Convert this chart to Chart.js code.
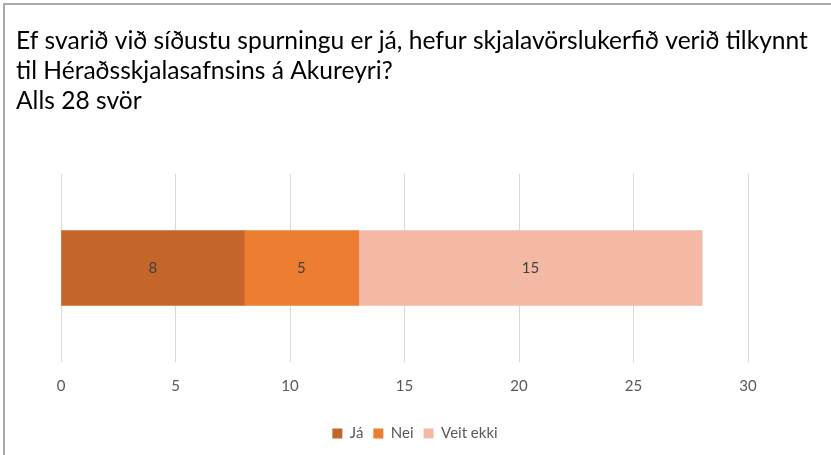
<!DOCTYPE html>
<html>
<head>
<meta charset="utf-8">
<script src="https://cdn.jsdelivr.net/npm/chart.js@4/dist/chart.umd.min.js"></script>
<style>
  html, body { margin: 0; padding: 0; background: #fff; overflow: hidden; }
  canvas { display: block; }
</style>
</head>
<body>
<canvas id="c" width="831" height="455"></canvas>
<script>
const titleLines = [
  "Ef svarið við síðustu spurningu er já, hefur skjalavörslukerfið verið tilkynnt",
  "til Héraðsskjalasafnsins á Akureyri?",
  "Alls 28 svör"
];
const categories = [""];
const seriesNames = ["Já", "Nei", "Veit ekki"];
const jaValues = [8];
const neiValues = [5];
const veitEkkiValues = [15];
const xTicks = [0, 5, 10, 15, 20, 25, 30];

const colors = ["#C4662A", "#ED7D31", "#F4B9A4"];
const FONT = "Lato, 'Open Sans', sans-serif";

const frame = {
  id: "frame",
  beforeDraw(chart) {
    const ctx = chart.ctx;
    ctx.save();
    ctx.fillStyle = "#fff";
    ctx.fillRect(0, 0, chart.width, chart.height);
    ctx.fillStyle = "#A9A9A9";
    ctx.fillRect(3, 3, chart.width - 3, 2);
    ctx.fillRect(3, 3, 2, chart.height - 3);
    ctx.restore();
  }
};

const valueLabels = {
  id: "valueLabels",
  afterDatasetsDraw(chart) {
    const ctx = chart.ctx;
    ctx.save();
    ctx.font = "15px " + FONT;
    ctx.fillStyle = "#404040";
    ctx.textAlign = "center";
    ctx.textBaseline = "middle";
    chart.data.datasets.forEach((ds, i) => {
      chart.getDatasetMeta(i).data.forEach((el, j) => {
        const p = el.getProps(["x", "y", "base"], true);
        ctx.fillText(String(ds.data[j]), (p.x + p.base) / 2, p.y);
      });
    });
    ctx.restore();
  }
};

const seriesData = [jaValues, neiValues, veitEkkiValues];

function build() {
  const mctx = document.createElement("canvas").getContext("2d");
  mctx.font = "100px Lato";
  const titleSize = Math.round(792 / mctx.measureText(titleLines[0]).width * 100 * 10) / 10;

  new Chart(document.getElementById("c"), {
    type: "bar",
    data: {
      labels: categories,
      datasets: seriesNames.map((n, i) => ({
        label: n,
        data: seriesData[i],
        backgroundColor: colors[i],
        borderWidth: 0,
        barThickness: 75
      }))
    },
    options: {
      indexAxis: "y",
      responsive: false,
      animation: false,
      layout: { padding: { left: 16, right: 17, top: 0, bottom: 4 } },
      scales: {
        x: {
          stacked: true,
          min: 0, max: 30,
          afterBuildTicks: s => { s.ticks = xTicks.map(v => ({ value: v })); },
          afterFit: s => { s.height += 6; },
          grid: { color: "#D9D9D9", lineWidth: 1, drawTicks: false },
          border: { display: false },
          ticks: { padding: 15, color: "#595959", font: { family: FONT, size: 15 } }
        },
        y: {
          stacked: true,
          display: true,
          grid: { display: false },
          border: { display: false },
          ticks: { display: false },
          afterFit: s => { s.width = 45; }
        },
        yRight: {
          type: "category",
          position: "right",
          display: true,
          grid: { display: false },
          border: { display: false },
          ticks: { display: false },
          afterFit: s => { s.width = 66; }
        }
      },
      plugins: {
        title: {
          display: true,
          text: titleLines,
          align: "start",
          color: "#000",
          font: { family: FONT, size: titleSize, weight: "normal", lineHeight: 30 / titleSize },
          padding: { top: 26, bottom: 58 }
        },
        legend: {
          position: "bottom",
          labels: {
            boxWidth: 10, boxHeight: 10, padding: 10,
            color: "#595959",
            font: { family: FONT, size: 15 }
          }
        },
        tooltip: { enabled: false }
      }
    },
    plugins: [frame, valueLabels]
  });
}

if (document.fonts && document.fonts.load) {
  Promise.all([document.fonts.load("20px Lato"), document.fonts.load("15px Lato")])
    .then(build, build);
} else {
  build();
}
</script>
</body>
</html>
